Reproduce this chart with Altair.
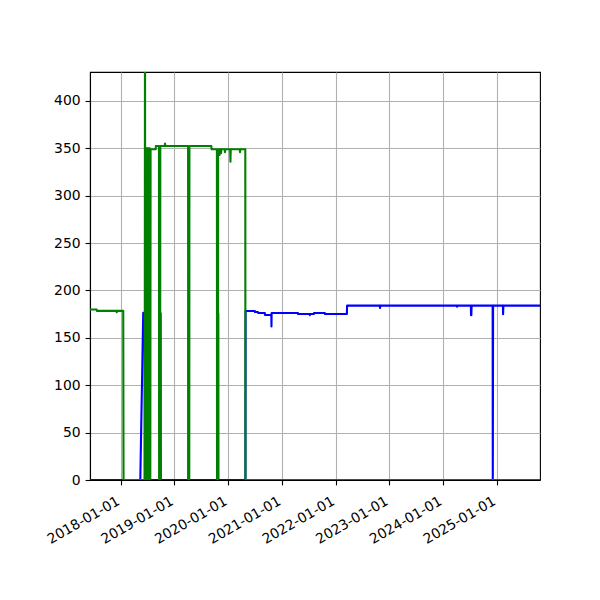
import altair as alt
import pandas as pd

# ---- data ----
green_dates = [
    "2017-06-06", "2017-07-21", "2017-07-23", "2017-12-03", "2017-12-05", "2017-12-07",
    "2018-01-18", "2018-01-20", "2018-06-13", "2018-06-15", "2018-06-17", "2018-06-19",
    "2018-06-21", "2018-06-23", "2018-06-26", "2018-06-28", "2018-07-01", "2018-07-03",
    "2018-07-06", "2018-07-08", "2018-07-11", "2018-07-13", "2018-07-16", "2018-07-18",
    "2018-07-21", "2018-07-23", "2018-08-27", "2018-08-28", "2018-09-18", "2018-09-19",
    "2018-09-26", "2018-09-27", "2018-10-28", "2018-10-29", "2018-10-31", "2019-04-04",
    "2019-04-05", "2019-04-12", "2019-04-13", "2019-09-09", "2019-09-11", "2019-10-17",
    "2019-10-18", "2019-10-24", "2019-10-25", "2019-11-03", "2019-11-04", "2019-11-06",
    "2019-11-13", "2019-11-14", "2019-11-16", "2019-12-10", "2019-12-11", "2019-12-13",
    "2020-01-15", "2020-01-17", "2020-01-19", "2020-03-21", "2020-03-22", "2020-03-24",
    "2020-04-27", "2020-04-28", "2025-10-22",
]
green_values = [
    180, 180, 178.5, 178.5, 177, 178.5,
    178.5, 0, 0, 520, 0, 350,
    0, 350, 0, 350, 0, 350,
    0, 350, 0, 350, 0, 350,
    0, 349, 349, 352.5, 352.5, 0,
    0, 352.5, 352.5, 355, 352.5, 352.5,
    0, 0, 352.5, 352.5, 349, 349,
    0, 0, 349, 349, 343, 349,
    349, 345, 349, 349, 346, 349,
    349, 336, 349, 349, 346, 349,
    349, 0, 0,
]

blue_dates = [
    "2017-06-06", "2018-05-14", "2018-06-03", "2018-06-13", "2018-06-14", "2018-09-28",
    "2018-09-29", "2018-09-30", "2019-04-07", "2019-04-08", "2019-04-09", "2019-10-25",
    "2019-10-26", "2019-10-27", "2020-04-28", "2020-04-29", "2020-07-01", "2020-07-02",
    "2020-07-22", "2020-07-23", "2020-09-07", "2020-09-08", "2020-10-21", "2020-10-22",
    "2020-10-23", "2021-04-20", "2021-04-21", "2021-07-09", "2021-07-10", "2021-07-12",
    "2021-08-06", "2021-08-07", "2021-10-20", "2021-10-21", "2022-03-19", "2022-03-20",
    "2022-10-29", "2022-10-30", "2022-11-01", "2024-04-05", "2024-04-06", "2024-04-08",
    "2024-07-09", "2024-07-10", "2024-07-12", "2024-07-14", "2024-12-04", "2024-12-05",
    "2024-12-07", "2025-02-12", "2025-02-13", "2025-02-15", "2025-10-22",
]
blue_values = [
    0, 0, 176.5, 176.5, 0, 0,
    176, 0, 0, 176, 0, 0,
    176, 0, 0, 178.4, 178.4, 177.3,
    177.3, 176.3, 176.3, 174.1, 174.1, 162,
    176.3, 176.3, 175.2, 175.2, 174, 175.2,
    175.2, 176.3, 176.3, 175.2, 175.2, 184,
    184, 181.5, 184, 184, 183, 184,
    184, 174, 174, 184, 184, 0,
    184, 184, 175, 184, 184,
]

y_ticks = [0, 50, 100, 150, 200, 250, 300, 350, 400]

green = pd.DataFrame({"date": green_dates, "value": green_values})
blue = pd.DataFrame({"date": blue_dates, "value": blue_values})

FONT = "DejaVu Sans"

x_enc = alt.X(
    "date:T",
    title=None,
    scale=alt.Scale(
        type="utc",
        domain=[
            alt.DateTime(year=2017, month=6, date=6, utc=True),
            alt.DateTime(year=2025, month=10, date=22, utc=True),
        ],
        nice=False,
    ),
    axis=alt.Axis(
        format="%Y-%m-%d",
        tickCount=alt.TimeIntervalStep(interval="year", step=1),
        labelAngle=330,
        labelAlign="right",
        labelBaseline="top",
        labelOverlap=False,
        labelFlush=False,
        labelPadding=9,
        labelOffset=-6,
    ),
)
y_enc = alt.Y(
    "value:Q",
    title=None,
    scale=alt.Scale(domain=[0, 430.6], nice=False, zero=True),
    axis=alt.Axis(values=y_ticks, labelPadding=5, labelOverlap=False),
)

line_style = dict(strokeWidth=2.1, clip=True, strokeJoin="round", strokeCap="butt")

blue_line = alt.Chart(blue).mark_line(color="#0000ff", **line_style).encode(x=x_enc, y=y_enc)
green_line = alt.Chart(green).mark_line(color="#008000", **line_style).encode(x=x_enc, y=y_enc)

chart = (
    alt.layer(blue_line, green_line)
    .properties(
        width=450,
        height=408,
        autosize=alt.AutoSizeParams(type="none"),
        padding={"left": 82, "top": 64, "right": 50, "bottom": 110},
    )
    .configure_view(stroke="black", strokeWidth=1.1)
    .configure_axis(
        grid=True,
        gridColor="#b0b0b0",
        gridWidth=1.1,
        domainColor="black",
        domainWidth=1.1,
        tickColor="black",
        tickWidth=1.1,
        tickSize=4.9,
        labelFont=FONT,
        labelFontSize=13.9,
        labelColor="black",
    )
)

chart.save("out.html", embed_options={"renderer": "svg", "actions": False})
